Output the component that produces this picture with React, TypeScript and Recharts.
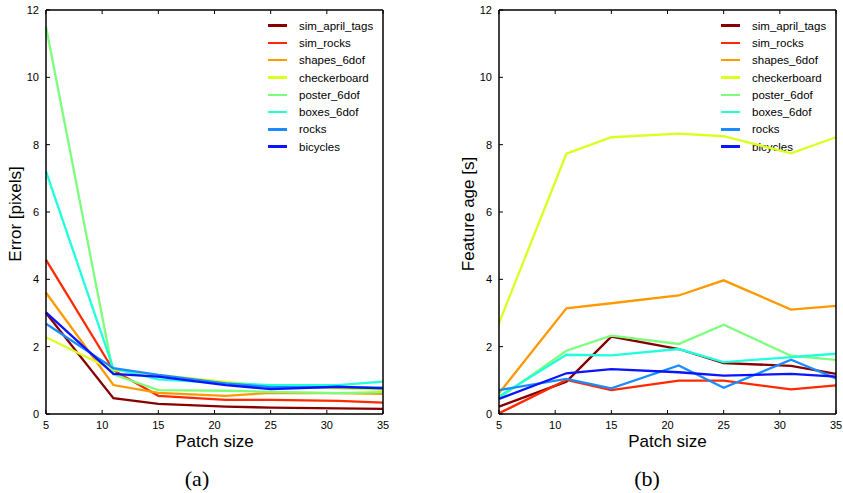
import React from 'react';
import { LineChart, Line, XAxis, YAxis } from 'recharts';

const patchSizes = [5, 11, 15, 21, 25, 31, 35];
const seriesNames = ['sim_april_tags', 'sim_rocks', 'shapes_6dof', 'checkerboard', 'poster_6dof', 'boxes_6dof', 'rocks', 'bicycles'];
const seriesColors = ['#870000', '#ff2a00', '#ff9900', '#ddff1f', '#7dff7d', '#22ffdd', '#1a8cff', '#0a14ff'];
const xTicks = [5, 10, 15, 20, 25, 30, 35];
const yTicks = [0, 2, 4, 6, 8, 10, 12];

// (a) tracking error in pixels
const errAprilTags = [3.0, 0.47, 0.30, 0.22, 0.19, 0.17, 0.15];
const errSimRocks = [4.58, 1.3, 0.54, 0.42, 0.42, 0.39, 0.34];
const errShapes = [3.6, 0.86, 0.63, 0.54, 0.63, 0.62, 0.6];
const errCheckerboard = [2.28, 1.3, 1.16, 0.95, 0.83, 0.76, 0.72];
const errPoster = [11.5, 1.18, 0.71, 0.69, 0.66, 0.62, 0.65];
const errBoxes = [7.21, 1.35, 1.03, 0.91, 0.86, 0.86, 0.96];
const errRocks = [2.68, 1.36, 1.16, 0.91, 0.8, 0.8, 0.78];
const errBicycles = [3.02, 1.19, 1.11, 0.86, 0.74, 0.81, 0.76];

// (b) feature age in seconds
const ageAprilTags = [0.22, 0.96, 2.3, 1.93, 1.51, 1.43, 1.19];
const ageSimRocks = [0.02, 1.01, 0.71, 0.99, 0.99, 0.73, 0.85];
const ageShapes = [0.62, 3.14, 3.29, 3.52, 3.97, 3.1, 3.21];
const ageCheckerboard = [2.7, 7.73, 8.22, 8.33, 8.25, 7.74, 8.22];
const agePoster = [0.47, 1.88, 2.33, 2.08, 2.65, 1.73, 1.61];
const ageBoxes = [0.52, 1.76, 1.74, 1.93, 1.54, 1.69, 1.79];
const ageRocks = [0.71, 1.04, 0.76, 1.44, 0.78, 1.61, 1.06];
const ageBicycles = [0.45, 1.21, 1.33, 1.24, 1.14, 1.19, 1.11];

const errorSeries = [errAprilTags, errSimRocks, errShapes, errCheckerboard, errPoster, errBoxes, errRocks, errBicycles];
const ageSeries = [ageAprilTags, ageSimRocks, ageShapes, ageCheckerboard, agePoster, ageBoxes, ageRocks, ageBicycles];

const buildRows = (series: number[][]) =>
  patchSizes.map((x, i) => {
    const row: Record<string, number> = { x };
    seriesNames.forEach((name, s) => {
      row[name] = series[s][i];
    });
    return row;
  });

const sans = '"Liberation Sans", Arial, sans-serif';
const tickStyle = { fontSize: 11, fill: '#000', fontFamily: sans };
const axisLine = { stroke: '#000', strokeWidth: 1.5 };

interface PanelProps {
  left: number;
  width: number;
  plotLeft: number;
  plotRight: number;
  series: number[][];
  yTitle: string;
  caption: string;
  captionX: number;
}

const Panel: React.FC<PanelProps> = ({ left, width, plotLeft, plotRight, series, yTitle, caption, captionX }) => {
  const data = buildRows(series);
  const plotMid = (plotLeft + plotRight) / 2;
  const legendLeft = plotRight - 115;

  return (
    <div style={{ position: 'absolute', left, top: 0, width, height: 493 }}>
      {/* legend sits under the lines */}
      <div style={{ position: 'absolute', left: legendLeft, top: 17, fontFamily: sans, fontSize: 11.5, color: '#000' }}>
        {seriesNames.map((name, i) => (
          <div key={name} style={{ display: 'flex', alignItems: 'center', height: 17.3 }}>
            <span style={{ display: 'inline-block', width: 19, height: 2.5, background: seriesColors[i], marginRight: 12 }} />
            <span>{name}</span>
          </div>
        ))}
      </div>

      <div style={{ position: 'absolute', left: 0, top: 0 }}>
        <LineChart
          width={width}
          height={460}
          data={data}
          margin={{ top: 9, right: width - plotRight - 1, bottom: 0, left: plotLeft - 40 }}
        >
          <XAxis
            xAxisId="bottom"
            dataKey="x"
            type="number"
            domain={[5, 35]}
            ticks={xTicks}
            height={46}
            tickSize={-4}
            tickMargin={11}
            tick={tickStyle}
            axisLine={axisLine}
            tickLine={{ stroke: '#000' }}
          />
          <XAxis
            xAxisId="top"
            orientation="top"
            dataKey="x"
            type="number"
            domain={[5, 35]}
            ticks={xTicks}
            height={1}
            tickSize={-4}
            tickFormatter={() => ''}
            axisLine={axisLine}
            tickLine={{ stroke: '#000' }}
          />
          <YAxis
            yAxisId="left"
            type="number"
            domain={[0, 12]}
            ticks={yTicks}
            width={40}
            tickSize={-4}
            tickMargin={11}
            tick={tickStyle}
            axisLine={axisLine}
            tickLine={{ stroke: '#000' }}
          />
          <YAxis
            yAxisId="right"
            orientation="right"
            type="number"
            domain={[0, 12]}
            ticks={yTicks}
            width={1}
            tickSize={-4}
            tickFormatter={() => ''}
            axisLine={axisLine}
            tickLine={{ stroke: '#000' }}
          />
          {seriesNames.map((name, i) => (
            <Line
              key={name}
              xAxisId="bottom"
              yAxisId="left"
              type="linear"
              dataKey={name}
              stroke={seriesColors[i]}
              strokeWidth={2.3}
              dot={false}
              isAnimationActive={false}
            />
          ))}
        </LineChart>
      </div>

      <div
        style={{
          position: 'absolute',
          left: plotLeft - 31,
          top: 214,
          transform: 'translate(-50%, -50%) rotate(-90deg)',
          whiteSpace: 'nowrap',
          fontFamily: sans,
          fontSize: 17,
          lineHeight: '17px',
          color: '#000',
        }}
      >
        {yTitle}
      </div>
      <div
        style={{
          position: 'absolute',
          left: plotMid,
          top: 441,
          transform: 'translate(-50%, -50%)',
          whiteSpace: 'nowrap',
          fontFamily: sans,
          fontSize: 17,
          lineHeight: '17px',
          color: '#000',
        }}
      >
        Patch size
      </div>
      <div
        style={{
          position: 'absolute',
          left: captionX,
          top: 479,
          transform: 'translate(-50%, -50%)',
          whiteSpace: 'nowrap',
          fontFamily: '"Liberation Serif", "DejaVu Serif", serif',
          fontSize: 22,
          lineHeight: '22px',
          color: '#000',
        }}
      >
        {caption}
      </div>
    </div>
  );
};

export default function App() {
  return (
    <div style={{ position: 'absolute', left: 0, top: 0, width: 843, height: 493, background: '#fff' }}>
      <Panel left={0} width={420} plotLeft={46} plotRight={383} series={errorSeries} yTitle="Error [pixels]" caption="(a)" captionX={197} />
      <Panel left={420} width={423} plotLeft={79} plotRight={416} series={ageSeries} yTitle="Feature age [s]" caption="(b)" captionX={227} />
    </div>
  );
}
